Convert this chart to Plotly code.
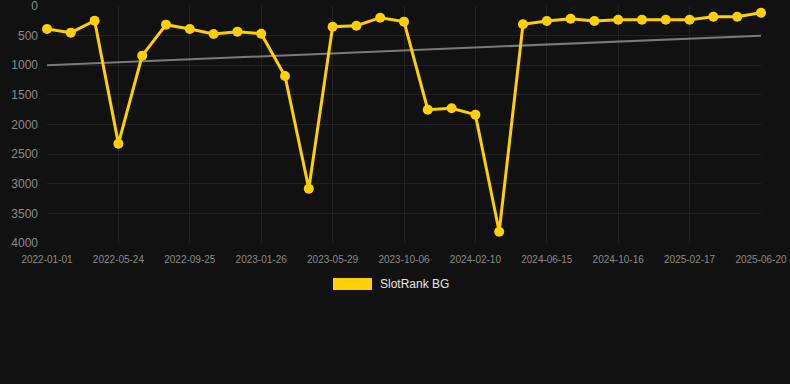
import plotly.graph_objects as go

tick_labels = ["2022-01-01", "2022-05-24", "2022-09-25", "2023-01-26", "2023-05-29",
               "2023-10-06", "2024-02-10", "2024-06-15", "2024-10-16", "2025-02-17", "2025-06-20"]
rank = [388, 450, 248, 2323, 838, 315, 388, 473, 433, 467,
        1181, 3083, 349, 332, 197, 264, 1750, 1727, 1834, 3809,
        309, 253, 214, 253, 231, 231, 231, 231, 180, 180, 113]
trend_start, trend_end = 1000, 500
series_name = "SlotRank BG"

idx = list(range(len(rank)))
tickvals = idx[::3]

fig = go.Figure()
fig.add_trace(go.Scatter(
    x=[idx[0], idx[-1]], y=[trend_start, trend_end], mode="lines",
    line=dict(color="#7a7a7a", width=2), showlegend=False, hoverinfo="skip"))
fig.add_trace(go.Scatter(
    x=idx, y=rank, mode="lines+markers", name=series_name,
    line=dict(color="#FFD000", width=3),
    marker=dict(color="#FFD000", size=10),
    cliponaxis=False, showlegend=False))

fig.add_shape(type="rect", xref="paper", yref="paper",
              x0=(333-47)/714, x1=(372-47)/714, y0=-(278-243)/237, y1=-(290-243)/237,
              fillcolor="#FFD000", line=dict(width=0))
fig.add_annotation(xref="paper", yref="paper", x=(378-47)/714, y=-(284-243)/237,
                   text=series_name, showarrow=False, xanchor="left", yanchor="middle",
                   font=dict(color="#e6e6e6", size=12, family="Liberation Sans, Arial"))

fig.update_layout(
    width=790, height=384,
    margin=dict(l=47, r=29, t=6, b=141, autoexpand=False),
    paper_bgcolor="#111111", plot_bgcolor="#111111",
    font=dict(family="Liberation Sans, Arial", color="#8a8a8a"),
    xaxis=dict(range=[0, len(rank)-1], tickvals=tickvals, ticktext=tick_labels,
               showgrid=True, gridcolor="#222222", zeroline=False, showline=False,
               tickfont=dict(size=10, color="#8a8a8a"), ticks="", ticklabelstandoff=9,
               ticklabeloverflow="allow", automargin=False),
    yaxis=dict(range=[4000, 0], tickvals=[0, 500, 1000, 1500, 2000, 2500, 3000, 3500, 4000],
               showgrid=True, gridcolor="#222222", zeroline=False, showline=False,
               tickfont=dict(size=12, color="#8a8a8a"), ticks="", ticklabelstandoff=8,
               ticklabeloverflow="allow", automargin=False),
    showlegend=False,
)
fig.write_html("out.html", config={"displayModeBar": False})
with open("out.html", encoding="utf-8") as f:
    html = f.read()
html = html.replace("<body>", "<body style=\"margin:0;background:#111111\">", 1)
with open("out.html", "w", encoding="utf-8") as f:
    f.write(html)
